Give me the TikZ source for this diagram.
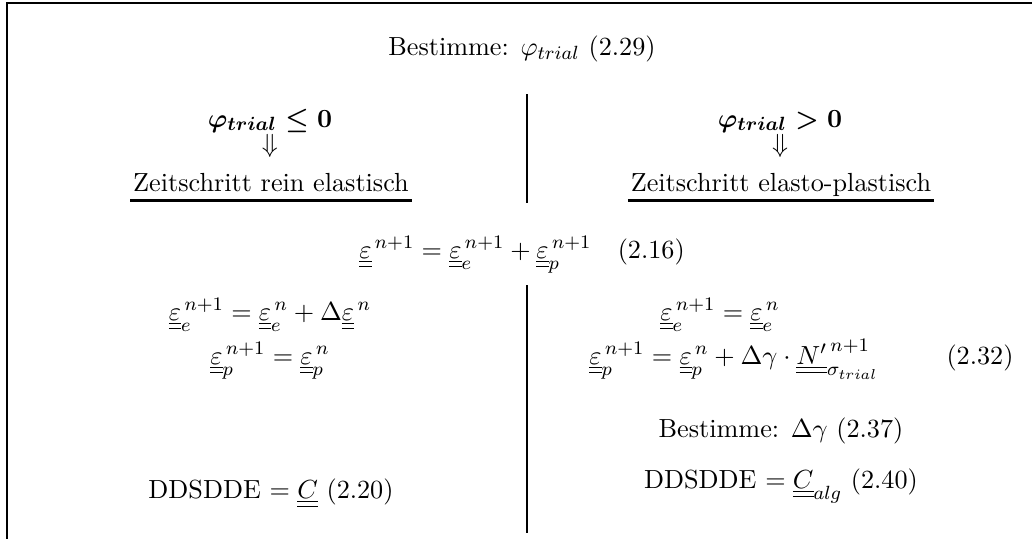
\documentclass[tikz,border=0pt]{standalone}
\usepackage{amsmath}
\usetikzlibrary{positioning,calc}

\newcommand{\ten}[1]{\underline{\underline{#1}}}

\begin{document}
\begin{tikzpicture}[x=0.0147cm,y=-0.0147cm,font=\fontsize{10.95}{13.6}\selectfont,
  txt/.style={anchor=base,inner sep=0pt},
  ul/.style={line width=1.25pt}]
  \useasboundingbox (0,0) rectangle (1032,539);
  \draw[line width=0.85pt] (7,539) -- (7,3) -- (1032,3);
  \node[txt] (titel) at (522,55) {Bestimme: $\varphi_{trial}$ (2.29)};
  % Fallunterscheidung
  \node[txt] (bedl) at (270,127) {$\boldsymbol{\varphi_{trial}\le 0}$};
  \node[txt] (pfl) at (270,152) {$\Downarrow$};
  \node[txt] (zsl) at (271,191) {Zeitschritt rein elastisch};
  \node[txt] (bedr) at (780,127) {$\boldsymbol{\varphi_{trial}> 0}$};
  \node[txt] (pfr) at (780,152) {$\Downarrow$};
  \node[txt] (zsr) at (781,191) {Zeitschritt elasto-plastisch};
  \draw[ul] ([shift={(-1pt,-3.8pt)}]zsl.base west) -- ([shift={(1pt,-3.8pt)}]zsl.base east);
  \draw[ul] ([shift={(-1pt,-3.8pt)}]zsr.base west) -- ([shift={(1pt,-3.8pt)}]zsr.base east);
  \coordinate (o1) at (527,94); \coordinate (u1) at (527,203);
  \draw[line width=0.85pt] (o1) -- (u1);
  % additive Zerlegung
  \node[txt] (zerl) at (522,258) {$\ten{\varepsilon}^{\,n+1}=\ten{\varepsilon}_e^{\,n+1}+\ten{\varepsilon}_p^{\,n+1}\quad(2.16)$};
  \coordinate (o2) at (527,285); \coordinate (u2) at (527,533);
  \draw[line width=0.85pt] (o2) -- (u2);
  % elastisch
  \node[txt] (el1) at (270,320) {$\ten{\varepsilon}_e^{\,n+1}=\ten{\varepsilon}_e^{\,n}+\Delta\ten{\varepsilon}^{\,n}$};
  \node[txt] (el2) at (270,364) {$\ten{\varepsilon}_p^{\,n+1}=\ten{\varepsilon}_p^{\,n}$};
  \node[txt] (ddl) at (271,498) {DDSDDE $=\ten{C}$ (2.20)};
  % elasto-plastisch
  \node[txt] (pl1) at (720,320) {$\ten{\varepsilon}_e^{\,n+1}=\ten{\varepsilon}_e^{\,n}$};
  \node[txt] (pl2) at (734,364) {$\ten{\varepsilon}_p^{\,n+1}=\ten{\varepsilon}_p^{\,n}+\Delta\gamma\cdot\ten{N'}_{\sigma_{trial}}^{\,n+1}$};
  \node[txt] (nr232) at (980,364) {(2.32)};
  \node[txt] (dg) at (781,437) {Bestimme: $\Delta\gamma$ (2.37)};
  \node[txt] (ddr) at (781,488) {DDSDDE $=\ten{C}_{alg}$ (2.40)};
\end{tikzpicture}
\end{document}
